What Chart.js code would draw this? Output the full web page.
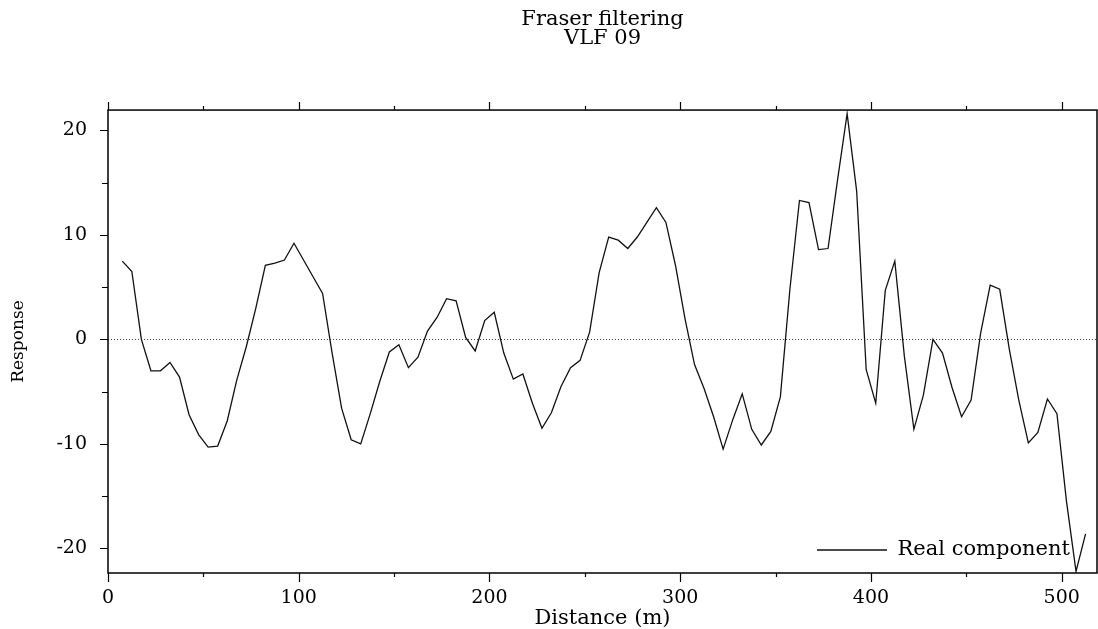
<!DOCTYPE html>
<html>
<head>
<meta charset="utf-8">
<script src="https://cdn.jsdelivr.net/npm/chart.js@4.4.0/dist/chart.umd.min.js"></script>
<style>
html,body{margin:0;padding:0;background:#fff;overflow:hidden}
#wrap{width:1098px;height:629px;position:relative}
</style>
</head>
<body>
<div id="wrap"><canvas id="c"></canvas></div>
<script>
const titleLines = ['Fraser filtering', 'VLF 09'];
const seriesName = 'Real component';
const xAxisTitle = 'Distance (m)';
const yAxisTitle = 'Response';

const distances = [
  7.5, 12.5, 17.5, 22.5, 27.5, 32.5, 37.5, 42.5, 47.5, 52.5,
  57.5, 62.5, 67.5, 72.5, 77.5, 82.5, 87.5, 92.5, 97.5, 102.5,
  107.5, 112.5, 117.5, 122.5, 127.5, 132.5, 137.5, 142.5, 147.5, 152.5,
  157.5, 162.5, 167.5, 172.5, 177.5, 182.5, 187.5, 192.5, 197.5, 202.5,
  207.5, 212.5, 217.5, 222.5, 227.5, 232.5, 237.5, 242.5, 247.5, 252.5,
  257.5, 262.5, 267.5, 272.5, 277.5, 282.5, 287.5, 292.5, 297.5, 302.5,
  307.5, 312.5, 317.5, 322.5, 327.5, 332.5, 337.5, 342.5, 347.5, 352.5,
  357.5, 362.5, 367.5, 372.5, 377.5, 382.5, 387.5, 392.5, 397.5, 402.5,
  407.5, 412.5, 417.5, 422.5, 427.5, 432.5, 437.5, 442.5, 447.5, 452.5,
  457.5, 462.5, 467.5, 472.5, 477.5, 482.5, 487.5, 492.5, 497.5, 502.5,
  507.5, 512.5
];
const realComponent = [
  7.5, 6.5, 0.0, -3.0, -3.0, -2.2, -3.6, -7.2, -9.1, -10.3,
  -10.2, -7.8, -3.9, -0.7, 3.0, 7.1, 7.3, 7.6, 9.2, 7.6,
  6.0, 4.4, -1.3, -6.6, -9.6, -10.0, -7.1, -4.0, -1.2, -0.5,
  -2.7, -1.7, 0.8, 2.1, 3.9, 3.7, 0.2, -1.1, 1.8, 2.6,
  -1.3, -3.8, -3.3, -6.1, -8.5, -7.0, -4.5, -2.7, -2.0, 0.7,
  6.4, 9.8, 9.5, 8.7, 9.8, 11.2, 12.6, 11.2, 7.1, 2.0,
  -2.4, -4.7, -7.4, -10.5, -7.7, -5.2, -8.6, -10.1, -8.8, -5.5,
  4.8, 13.3, 13.1, 8.6, 8.7, 15.3, 21.6, 14.2, -2.9, -6.1,
  4.7, 7.5, -1.6, -8.6, -5.3, 0.0, -1.3, -4.6, -7.4, -5.8,
  0.6, 5.2, 4.8, -0.9, -5.8, -9.9, -8.9, -5.7, -7.1, -15.5,
  -22.2, -18.6
];

const xTickValues = [0, 100, 200, 300, 400, 500];
const xMinorTickValues = [50, 150, 250, 350, 450];
const yTickValues = [-20, -10, 0, 10, 20];
const yMinorTickValues = [-15, -5, 5, 15];

const FONT = 'DejaVu Serif';
Chart.defaults.font.family = FONT;
Chart.defaults.color = '#000';

const framePlugin = {
  id: 'framePlugin',
  afterLayout(chart) {
    const lg = chart.legend;
    if (lg) {
      const w = lg.width;
      lg.left = 807;
      lg.right = 807 + w;
      lg.top = chart.chartArea.top;
      lg.bottom = 570.5;
    }
  },
  beforeDatasetsDraw(chart) {
    const ctx = chart.ctx, a = chart.chartArea, ys = chart.scales.y;
    const y0 = Math.round(ys.getPixelForValue(0)) + 0.5;
    ctx.save();
    ctx.strokeStyle = '#444';
    ctx.lineWidth = 1;
    ctx.setLineDash([1, 2]);
    ctx.beginPath();
    ctx.moveTo(a.left, y0);
    ctx.lineTo(a.right, y0);
    ctx.stroke();
    ctx.restore();
  },
  afterDraw(chart) {
    const ctx = chart.ctx, a = chart.chartArea, xs = chart.scales.x, ys = chart.scales.y;
    ctx.save();
    ctx.strokeStyle = '#000';
    ctx.lineWidth = 1.2;
    ctx.beginPath();
    xTickValues.forEach(v => {
      const p = Math.round(xs.getPixelForValue(v)) + 0.5;
      ctx.moveTo(p, a.bottom); ctx.lineTo(p, a.bottom + 9);
      ctx.moveTo(p, a.top); ctx.lineTo(p, a.top - 8);
    });
    xMinorTickValues.forEach(v => {
      const p = Math.round(xs.getPixelForValue(v)) + 0.5;
      ctx.moveTo(p, a.bottom); ctx.lineTo(p, a.bottom + 4);
      ctx.moveTo(p, a.top); ctx.lineTo(p, a.top - 4);
    });
    yTickValues.forEach(v => {
      const p = Math.round(ys.getPixelForValue(v)) + 0.5;
      ctx.moveTo(a.left, p); ctx.lineTo(a.left - 8, p);
    });
    yMinorTickValues.forEach(v => {
      const p = Math.round(ys.getPixelForValue(v)) + 0.5;
      ctx.moveTo(a.left, p); ctx.lineTo(a.left - 6, p);
    });
    ctx.stroke();
    ctx.lineWidth = 1.5;
    ctx.strokeRect(a.left, a.top, a.right - a.left, a.bottom - a.top);
    ctx.restore();
  }
};

new Chart(document.getElementById('c'), {
  type: 'line',
  data: {
    datasets: [{
      label: seriesName,
      data: distances.map((d, i) => ({ x: d, y: realComponent[i] })),
      borderColor: '#111',
      backgroundColor: '#111',
      borderWidth: 1.3,
      pointRadius: 0,
      tension: 0,
      fill: false
    }]
  },
  options: {
    responsive: true,
    maintainAspectRatio: false,
    animation: false,
    events: [],
    layout: { padding: { left: 0, right: 1, top: 0, bottom: 0 } },
    plugins: {
      title: {
        display: true,
        fullSize: false,
        text: titleLines,
        color: '#000',
        font: { family: FONT, size: 21, weight: 'normal', lineHeight: 0.93 },
        padding: { top: 9.75, bottom: 61.25 }
      },
      legend: {
        display: true,
        position: 'chartArea',
        align: 'end',
        labels: {
          boxWidth: 70,
          boxHeight: 0,
          color: '#000',
          font: { family: FONT, size: 21 }
        }
      },
      tooltip: { enabled: false }
    },
    scales: {
      x: {
        type: 'linear',
        position: 'bottom',
        min: 0,
        max: 518.5,
        afterBuildTicks: s => { s.ticks = xTickValues.map(v => ({ value: v })); },
        afterFit: s => { s.height = 56; },
        ticks: { font: { size: 19 }, padding: 5, maxRotation: 0, autoSkip: false, color: '#000' },
        grid: { display: true, drawOnChartArea: false, drawTicks: true, tickLength: 9, color: 'rgba(0,0,0,0)' },
        border: { display: false },
        title: { display: true, text: xAxisTitle, color: '#000', font: { size: 21 }, padding: { top: 0, bottom: -2 } }
      },
      y: {
        type: 'linear',
        position: 'left',
        min: -22.35,
        max: 21.95,
        afterBuildTicks: s => { s.ticks = yTickValues.map(v => ({ value: v })); },
        afterFit: s => { s.width = 108; },
        ticks: { font: { size: 19 }, padding: 13, color: '#000' },
        grid: { display: true, drawOnChartArea: false, drawTicks: true, tickLength: 8, color: 'rgba(0,0,0,0)' },
        border: { display: false },
        title: { display: true, text: yAxisTitle, color: '#000', font: { size: 17 }, padding: { top: 8, bottom: 0 } }
      }
    }
  },
  plugins: [framePlugin]
});
</script>
</body>
</html>
